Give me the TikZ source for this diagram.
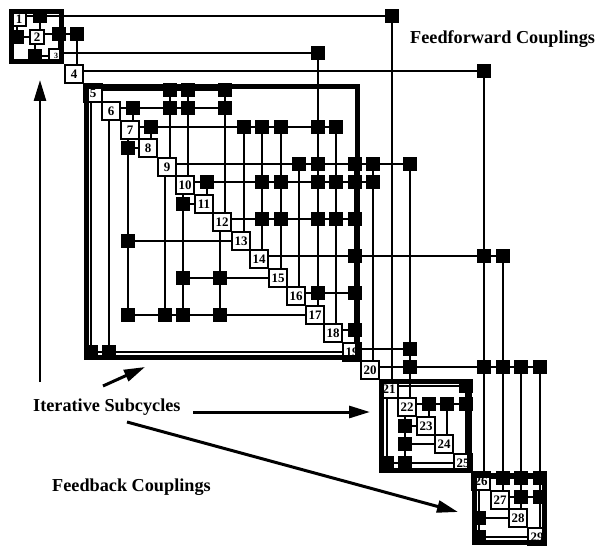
\documentclass[tikz,border=0pt]{standalone}
\usepackage{fontspec}
\setmainfont{Liberation Serif}
\usetikzlibrary{arrows.meta}
\begin{document}
\begin{tikzpicture}[x=1bp,y=-1bp,
  dbox/.style={draw,fill=white,line width=2bp,minimum size=18bp,inner sep=0pt,
    font=\fontsize{13}{14}\selectfont\bfseries},
  mk/.style={fill=black,minimum size=14bp,inner sep=0pt},
  link/.style={line width=2bp},
  grp/.style={line width=5bp},
  arr/.style={line width=2.6bp,-{Triangle[length=21bp,width=12bp]}},
  lbl/.style={font=\fontsize{18.3}{20}\selectfont\bfseries,inner sep=0pt,anchor=base west}]
\useasboundingbox (0,0) rectangle (597,546);

% diagonal elements
\node[dbox,minimum size=14bp] (d1) at (19,19) {1};
\node[dbox,minimum size=14bp] (d2) at (37,37) {2};
\node[dbox,minimum size=14bp,font=\fontsize{8}{9}\selectfont\bfseries] (d3) at (56,56) {3};
\foreach \k in {4,...,29}{
  \node[dbox] (d\k) at ({round(18.5*\k)},{round(18.5*\k)}) {\k};
}

% couplings
\foreach \i/\j in {1/2,2/1,2/3,3/2,1/21,2/4,3/17,4/26,
  5/9,5/10,5/12,
  6/7,6/9,6/10,6/12,
  7/8,7/13,7/14,7/15,7/17,7/18,
  8/7,
  9/16,9/17,9/19,9/20,9/22,
  10/11,10/14,10/15,10/17,10/18,10/19,10/20,
  11/10,
  12/14,12/15,12/17,12/18,12/19,
  13/7,
  14/19,14/26,14/27,
  15/10,15/12,
  16/17,16/19,
  17/7,17/9,17/10,17/12,
  18/19,
  19/5,19/6,19/22,
  20/22,20/26,20/27,20/28,20/29,
  21/25,
  22/23,22/24,22/25,
  23/22,24/22,25/21,25/22,
  26/27,26/28,26/29,
  27/28,27/29,
  28/26,29/26}{
  \ifnum\j>\i
    \node[mk] (m-\i-\j) at ({round(18.5*\j)+3},{round(18.5*\i)-3}) {};
    \draw[link] (m-\i-\j) -- (m-\i-\j -| d\i.east);
    \draw[link] (m-\i-\j) -- (m-\i-\j |- d\j.north);
  \else
    \node[mk] (m-\i-\j) at ({round(18.5*\j)-2},{round(18.5*\i)}) {};
    \draw[link] (m-\i-\j) -- (m-\i-\j -| d\i.west);
    \draw[link] (m-\i-\j) -- (m-\i-\j |- d\j.south);
  \fi
}

% iterative subcycle blocks
\draw[grp] (11.5,11.5) rectangle (61.5,61.5);
\draw[grp] (86.5,86.5) rectangle (357.5,357.5);
\draw[grp] (381.5,381.5) rectangle (469.5,470.5);
\draw[grp] (474.5,475.5) rectangle (544.5,542.5);

% labels
\node[lbl] (ff) at (410,44) {Feedforward Couplings};
\node[lbl] (it) at (33,411) {Iterative Subcycles};
\node[lbl] (fb) at (52,491) {Feedback Couplings};

% arrows
\coordinate (va1) at (40,382);
\coordinate (va2) at (40,80);
\draw[arr] (va1) -- (va2);
\coordinate (sa1) at (103,386);
\coordinate (sa2) at (145,367);
\draw[arr,line width=3bp] (sa1) -- (sa2);
\coordinate (ha1) at (193,412);
\coordinate (ha2) at (370,412);
\draw[arr,line width=3bp] (ha1) -- (ha2);
\coordinate (da1) at (127,422);
\coordinate (da2) at (458,512);
\draw[arr,line width=3bp] (da1) -- (da2);
\end{tikzpicture}
\end{document}
